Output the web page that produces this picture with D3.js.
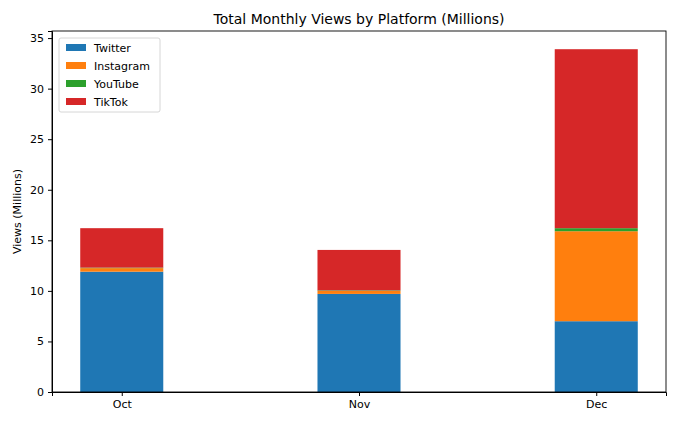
<!DOCTYPE html>
<html><head><meta charset="utf-8">
<script src="https://cdn.jsdelivr.net/npm/d3@7"></script>
<style>
body{margin:0;background:#fff;font-family:"DejaVu Sans",sans-serif;}
.axis text{font-size:11px;fill:#000;font-family:"DejaVu Sans",sans-serif;}
</style></head><body>
<div id="chart"></div>
<script>
const months = ["Oct", "Nov", "Dec"];
const platforms = ["Twitter", "Instagram", "YouTube", "TikTok"];
const colors = ["#1f77b4", "#ff7f0e", "#2ca02c", "#d62728"];
const twitter = [11.9, 9.7, 7.0];
const instagram = [0.35, 0.3, 8.9];
const youtube = [0.05, 0.05, 0.3];
const tiktok = [3.9, 4.0, 17.7];
const yTicks = [0, 5, 10, 15, 20, 25, 30, 35];

const rows = months.map((m, i) => ({ month: m, i, Twitter: twitter[i], Instagram: instagram[i], YouTube: youtube[i], TikTok: tiktok[i] }));
const margin = { top: 31, right: 14, bottom: 33, left: 52 };
const W = 680, H = 425;
const width = W - margin.left - margin.right, height = H - margin.top - margin.bottom;

const svg = d3.select("#chart").append("svg").attr("width", W).attr("height", H);
const g = svg.append("g").attr("transform", `translate(${margin.left},${margin.top})`);

const x = d3.scaleLinear().domain([-0.294, 2.294]).range([0, width]);
const y = d3.scaleLinear().domain([0, 35.7]).range([height, 0]);
const bw = x(0.35) - x(0);

const stack = d3.stack().keys(platforms)(rows);
g.selectAll(".layer").data(stack).join("g")
  .attr("fill", (d, i) => colors[i])
  .selectAll("rect").data(d => d).join("rect")
  .attr("x", d => x(d.data.i) - bw / 2)
  .attr("width", bw)
  .attr("y", d => y(d[1]))
  .attr("height", d => y(d[0]) - y(d[1]));

g.append("g").attr("class", "axis").attr("transform", `translate(0,${height})`)
  .call(d3.axisBottom(x).tickValues([0, 1, 2]).tickFormat(i => months[i]).tickSizeOuter(0).tickSize(4).tickPadding(4));
g.append("g").attr("class", "axis")
  .call(d3.axisLeft(y).tickValues(yTicks).tickSizeOuter(0).tickSize(4).tickPadding(4));
g.append("rect").attr("width", width).attr("height", height).attr("fill", "none").attr("stroke", "#000").attr("stroke-width", 0.9);

svg.append("text").attr("x", margin.left + width / 2).attr("y", 24).attr("text-anchor", "middle")
  .style("font-size", "14px").text("Total Monthly Views by Platform (Millions)");
svg.append("text").attr("transform", `translate(21,${margin.top + height / 2}) rotate(-90)`)
  .attr("text-anchor", "middle").style("font-size", "11px").text("Views (Millions)");

const lg = g.append("g").attr("transform", "translate(7,7)");
lg.append("rect").attr("width", 101).attr("height", 74).attr("rx", 2).attr("fill", "#fff")
  .attr("stroke", "#ccc").attr("stroke-width", 0.8);
platforms.forEach((p, i) => {
  lg.append("rect").attr("x", 7).attr("y", 6 + i * 18).attr("width", 20).attr("height", 7).attr("fill", colors[i]);
  lg.append("text").attr("x", 35).attr("y", 14 + i * 18).style("font-size", "11px").text(p);
});
</script></body></html>
